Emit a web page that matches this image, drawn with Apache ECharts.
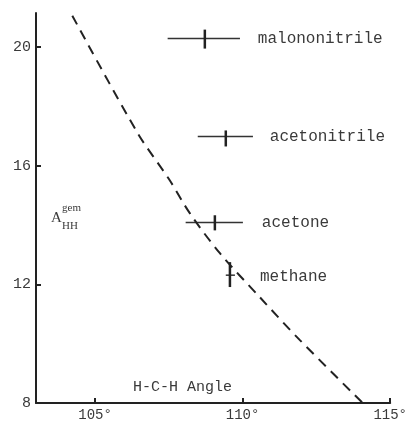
<!DOCTYPE html>
<html><head><meta charset="utf-8">
<script src="https://cdn.jsdelivr.net/npm/echarts@6/dist/echarts.min.js"></script>
<style>html,body{margin:0;padding:0;background:#fff}#c{width:410px;height:427px}</style>
</head><body><div id="c"></div>
<script>
// dashed trend curve
var curveX = [104.23, 106.45, 107.53, 108.21, 109.23, 110.58, 111.94, 114.07];
var curveY = [21.06, 17.09, 15.51, 14.40, 13.05, 11.57, 10.12, 8.0];
// measured compounds with error ranges
var compounds = ['malononitrile', 'acetonitrile', 'acetone', 'methane'];
var angle     = [108.72, 109.43, 109.06, 109.57];
var angleLow  = [107.46, 108.48, 108.07, 109.43];
var angleHigh = [109.91, 110.35, 110.01, 109.74];
var aGem      = [20.29, 16.99, 14.09, 12.31];
var aGemLow   = [19.95, 16.65, 13.82, 11.91];
var aGemHigh  = [20.59, 17.19, 14.33, 12.75];
// tick labels
var xTicks = [105, 110, 115];
var yTicks = [8, 12, 16, 20];

var ink = '#222';
var txt = '#3a3a3a';
var mono = 'Liberation Mono';
var labelOffsets = [[53, 0], [44, 0], [47, 0], [30, 2]];

var curveData = curveX.map(function (x, i) { return [x, curveY[i]]; });
var barData = compounds.map(function (n, i) {
  return [angle[i], aGem[i], angleLow[i], angleHigh[i], aGemLow[i], aGemHigh[i]];
});

var chart = echarts.init(document.getElementById('c'));
chart.setOption({
  animation: false,
  grid: { left: 36, right: 18, top: 13, bottom: 24 },
  xAxis: {
    type: 'value', min: 103, max: 115,
    axisLine: { show: true, lineStyle: { color: ink, width: 2 } },
    axisTick: { show: true, inside: true, length: 5, customValues: xTicks, lineStyle: { color: ink, width: 2 } },
    axisLabel: { customValues: xTicks, formatter: '{value}°', color: txt, fontFamily: mono, fontSize: 14, margin: 5 },
    splitLine: { show: false }
  },
  yAxis: {
    type: 'value', min: 8, max: 21.15,
    axisLine: { show: true, lineStyle: { color: ink, width: 2 } },
    axisTick: { show: true, inside: true, length: 5, customValues: yTicks, lineStyle: { color: ink, width: 2 } },
    axisLabel: { customValues: yTicks, color: txt, fontFamily: mono, fontSize: 15, margin: 5 },
    splitLine: { show: false }
  },
  series: [
    {
      type: 'line', data: curveData, smooth: 0.3, symbol: 'none',
      lineStyle: { color: ink, width: 2, type: [10, 7] }
    },
    {
      type: 'custom', data: barData,
      renderItem: function (params, api) {
        var i = params.dataIndex;
        var c = api.coord([api.value(0), api.value(1)]);
        var l = api.coord([api.value(2), api.value(1)]);
        var r = api.coord([api.value(3), api.value(1)]);
        var lo = api.coord([api.value(0), api.value(4)]);
        var hi = api.coord([api.value(0), api.value(5)]);
        var st = { stroke: '#333', lineWidth: 1.5 };
        return {
          type: 'group', children: [
            { type: 'line', shape: { x1: l[0], y1: l[1], x2: r[0], y2: r[1] }, style: st },
            { type: 'line', shape: { x1: lo[0], y1: lo[1], x2: hi[0], y2: hi[1] }, style: { stroke: '#222', lineWidth: 2.5 } },
            { type: 'text', x: c[0] + labelOffsets[i][0], y: c[1] + labelOffsets[i][1],
              style: { text: compounds[i], fill: txt, font: '16px "Liberation Mono"', textAlign: 'left', textVerticalAlign: 'middle' } }
          ]
        };
      }
    }
  ],
  graphic: [
    { type: 'text', left: 133, top: 380, style: { text: 'H-C-H Angle', font: '15px "Liberation Mono"', fill: txt } },
    { type: 'text', left: 51, top: 211, style: { text: 'A', font: '15px "Liberation Serif"', fill: txt } },
    { type: 'text', left: 62, top: 203, style: { text: 'gem', font: '11px "Liberation Serif"', fill: txt } },
    { type: 'text', left: 62, top: 221, style: { text: 'HH', font: '11px "Liberation Serif"', fill: txt } }
  ]
});
</script>
</body></html>
